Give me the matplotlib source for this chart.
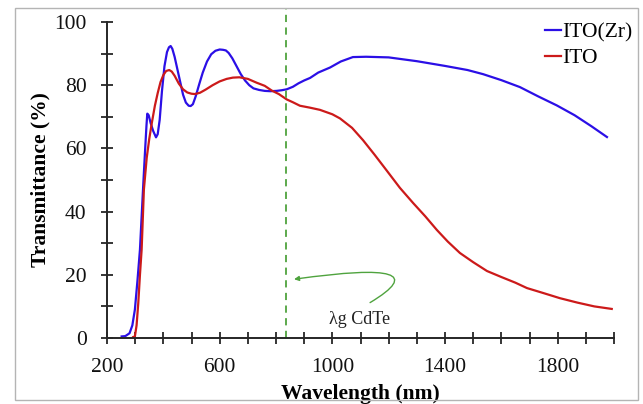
import matplotlib
matplotlib.use("Agg")
import matplotlib.pyplot as plt
from matplotlib.patches import Rectangle

plt.rcParams['font.family'] = ['Liberation Serif', 'DejaVu Serif']

# ITO(Zr) film
zr_nm = [252, 265, 280, 290, 299, 308, 317, 329, 335, 340, 343, 348, 355, 364, 374, 380,
         387, 395, 404, 413, 420, 426, 432, 440, 450, 460, 470, 480, 490, 497, 505, 515,
         528, 540, 555, 570, 585, 600, 612, 622, 632, 645, 660, 675, 690, 705, 720, 740,
         760, 780, 802, 820, 838, 860, 880, 900, 921, 950, 992, 1030, 1073, 1120, 1200,
         1300, 1400, 1480, 1535, 1600, 1666, 1730, 1797, 1860, 1920, 1975]
zr_T = [0.5, 0.6, 1.5, 4, 9, 18, 28, 49, 59, 67, 71, 70.5, 68, 65.5, 63.5, 64.5,
        69, 78, 86, 90.5, 92, 92.4, 91.5, 89, 85, 81, 77, 74.5, 73.5, 73.4, 74, 76.5,
        80.5, 84, 87.5, 89.8, 90.9, 91.3, 91.2, 91, 90.2, 88.5, 86, 83.5, 81.5, 80, 79, 78.5,
        78.2, 78.1, 78.2, 78.4, 78.7, 79.5, 80.6, 81.5, 82.3, 84, 85.6, 87.5, 88.9, 89, 88.8,
        87.6, 86.1, 84.8, 83.5, 81.6, 79.4, 76.5, 73.6, 70.5, 67, 63.6]

# plain ITO film
ito_nm = [293, 299, 305, 311, 317, 323, 331, 341, 350, 359, 370, 380, 390, 400, 410, 421,
          430, 440, 455, 470, 485, 500, 512, 530, 550, 575, 600, 625, 647, 670, 700, 731,
          760, 785, 810, 838, 860, 885, 920, 956, 1000, 1027, 1070, 1109, 1150, 1193, 1240,
          1287, 1330, 1371, 1410, 1453, 1500, 1549, 1600, 1650, 1691, 1750, 1808, 1870,
          1930, 1992]
ito_T = [0.3, 0.5, 4, 11, 20, 28, 47, 57, 63, 68, 73.5, 77.5, 81, 83.2, 84.5, 84.8,
         84.3, 83, 80.5, 78.7, 77.7, 77.3, 77.2, 77.6, 78.6, 80, 81.2, 82, 82.4, 82.5, 82, 80.8,
         79.8, 78.3, 77.2, 75.5, 74.6, 73.5, 72.9, 72.2, 70.8, 69.5, 66.5, 62.6, 58, 53, 47.5,
         42.7, 38.5, 34.2, 30.5, 26.9, 24, 21.2, 19.3, 17.5, 15.8, 14.2, 12.6, 11.2,
         10, 9.2]

gap_nm = 835
x_ticks = list(range(200, 2001, 100))
x_labels = ["200", "600", "1000", "1400", "1800"]
y_ticks = list(range(0, 101, 10))
y_labels = ["0", "20", "40", "60", "80", "100"]

W, H = 643, 404
fig = plt.figure(figsize=(W / 100, H / 100), dpi=100)
ax = fig.add_axes([107 / W, 1 - 338 / H, (614 - 107) / W, (338 - 22) / H])

ax.plot(zr_nm, zr_T, color="#2b0fe6", lw=1.6, label="ITO(Zr)")
ax.plot(ito_nm, ito_T, color="#cc1a1a", lw=1.6, label="ITO")
ax.plot([gap_nm, gap_nm], [0, 104], color="#4fa33e", lw=1.3, ls=(0, (4, 3)), clip_on=False)

ax.annotate("", xy=(864, 18.6), xytext=(1134, 11.2),
            arrowprops=dict(arrowstyle="-|>", color="#4fa33e", lw=1.0, mutation_scale=7,
                            shrinkA=0, shrinkB=0,
                            connectionstyle="angle3,angleA=31,angleB=8"))
ax.text(1098, 5.7, "λg CdTe", fontsize=13, ha="center", va="center", color="#222222")

ax.set_xlim(200, 2000)
ax.set_ylim(0, 100)
ax.set_xticks(x_ticks)
ax.set_xticklabels([str(t) if str(t) in x_labels else "" for t in x_ticks])
ax.set_yticks(y_ticks)
ax.set_yticklabels([str(t) if str(t) in y_labels else "" for t in y_ticks])

for s in ["top", "right"]:
    ax.spines[s].set_visible(False)
for s in ["left", "bottom"]:
    ax.spines[s].set_color("#262626")
    ax.spines[s].set_linewidth(1.4)
ax.tick_params(direction="inout", length=8.5, width=1.3, color="#262626",
               labelsize=15.5, labelcolor="#111111")
ax.tick_params(axis="x", pad=10)
ax.tick_params(axis="y", pad=10.5)

ax.set_xlabel("Wavelength (nm)", fontsize=15.5, fontweight="bold")
ax.set_ylabel("Transmittance (%)", fontsize=15.5, fontweight="bold")
ax.xaxis.set_label_coords(0.5, -0.145)
ax.yaxis.set_label_coords(-0.112, 0.5)

ax.legend(loc="upper right", bbox_to_anchor=(643 / W, 1 - 12 / H),
          bbox_transform=fig.transFigure, frameon=False, fontsize=15.5,
          handlelength=0.72, handletextpad=0.05, labelspacing=0.25, borderpad=0)

fig.patches.append(Rectangle((15 / W, 1 - 400 / H), (638 - 15) / W, (400 - 8) / H,
                             transform=fig.transFigure, fill=False,
                             edgecolor="#b4b4b4", lw=1.0))

fig.savefig("out.png", dpi=100, facecolor="white")
